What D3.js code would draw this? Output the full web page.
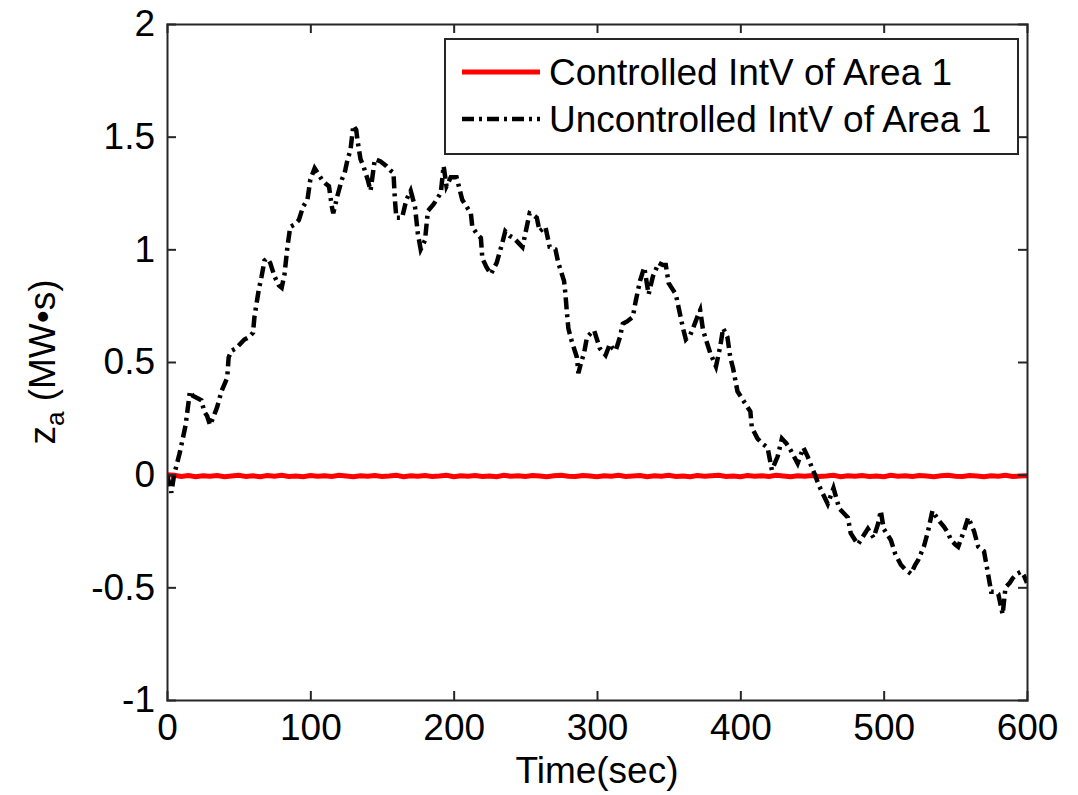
<!DOCTYPE html>
<html>
<head>
<meta charset="utf-8">
<script src="https://cdn.jsdelivr.net/npm/d3@7"></script>
<style>
  html, body { margin: 0; padding: 0; background: #fff; }
  svg { display: block; font-family: "Liberation Sans", Arial, sans-serif; }
</style>
</head>
<body>
<svg id="chart" width="1078" height="795"></svg>
<script>
// ---- data ----
const xTicks = [0, 100, 200, 300, 400, 500, 600];
const yTicks = [-1, -0.5, 0, 0.5, 1, 1.5, 2];
const yTickLabels = ["-1", "-0.5", "0", "0.5", "1", "1.5", "2"];
const seriesNames = ["Controlled IntV of Area 1", "Uncontrolled IntV of Area 1"];

const uncontrolledTime = [0,2,3,5,7,9,11,13,14,16,18,21,24,26,28,30,32,35,38,40,42,43,45,48,51,54,57,60,61,62,64,66,68,70,72,75,78,80,82,84,86,89,92,95,98,100,103,106,108,111,113,115,116,119,122,124,126,128,130,132,133,135,137,140,142,145,149,153,156,158,159,160,164,167,170,173,175,177,180,182,186,189,191,193,195,198,202,204,206,209,212,213,216,219,220,223,226,230,234,236,239,242,245,248,251,253,256,258,260,264,267,271,273,275,277,278,279,280,282,284,286,287,289,291,293,296,298,300,302,306,309,311,313,316,318,321,325,327,330,333,336,339,343,346,348,350,353,355,357,360,362,365,367,370,372,374,377,379,383,386,388,391,393,395,398,401,404,407,408,412,415,419,422,426,429,432,435,440,444,447,450,452,455,458,461,465,469,472,475,477,480,482,486,489,493,496,498,500,503,505,508,512,515,519,522,524,528,531,534,536,538,542,545,547,550,552,556,559,563,566,570,572,575,578,580,583,585,588,590,593,596,598,600];
const uncontrolledValue = [0.0,-0.05,-0.08,0.0,0.05,0.10,0.16,0.22,0.27,0.37,0.35,0.34,0.33,0.28,0.26,0.22,0.25,0.30,0.37,0.40,0.43,0.52,0.55,0.56,0.58,0.60,0.61,0.63,0.70,0.74,0.82,0.88,0.95,0.96,0.94,0.88,0.84,0.83,0.89,1.01,1.10,1.11,1.13,1.19,1.22,1.31,1.36,1.33,1.31,1.29,1.28,1.19,1.16,1.24,1.31,1.34,1.40,1.44,1.55,1.53,1.48,1.40,1.37,1.31,1.26,1.40,1.39,1.37,1.35,1.34,1.22,1.14,1.14,1.22,1.26,1.19,1.07,1.00,1.04,1.17,1.20,1.23,1.25,1.37,1.28,1.32,1.32,1.27,1.22,1.19,1.16,1.10,1.07,1.05,0.96,0.92,0.89,0.94,1.03,1.08,1.06,1.05,1.03,1.01,1.10,1.16,1.15,1.14,1.08,1.10,1.01,1.00,0.94,0.90,0.86,0.80,0.72,0.65,0.60,0.56,0.52,0.45,0.50,0.54,0.61,0.63,0.64,0.60,0.56,0.53,0.58,0.56,0.55,0.61,0.67,0.68,0.70,0.77,0.86,0.92,0.80,0.88,0.94,0.93,0.93,0.85,0.82,0.80,0.74,0.65,0.60,0.62,0.65,0.70,0.73,0.64,0.58,0.54,0.48,0.57,0.65,0.61,0.52,0.47,0.37,0.34,0.31,0.28,0.21,0.16,0.14,0.12,0.02,0.08,0.16,0.14,0.11,0.05,0.12,0.08,0.03,0.00,-0.05,-0.09,-0.13,-0.06,-0.15,-0.17,-0.19,-0.26,-0.29,-0.31,-0.27,-0.24,-0.28,-0.22,-0.16,-0.24,-0.27,-0.29,-0.35,-0.40,-0.42,-0.44,-0.40,-0.38,-0.32,-0.25,-0.16,-0.18,-0.20,-0.23,-0.26,-0.29,-0.31,-0.32,-0.25,-0.19,-0.25,-0.32,-0.34,-0.41,-0.52,-0.52,-0.53,-0.62,-0.50,-0.48,-0.46,-0.44,-0.43,-0.45,-0.48];

const controlledTime = [0,5,10,15,20,25,30,35,40,45,50,55,60,65,70,75,80,85,90,95,100,105,110,115,120,125,130,135,140,145,150,155,160,165,170,175,180,185,190,195,200,205,210,215,220,225,230,235,240,245,250,255,260,265,270,275,280,285,290,295,300,305,310,315,320,325,330,335,340,345,350,355,360,365,370,375,380,385,390,395,400,405,410,415,420,425,430,435,440,445,450,455,460,465,470,475,480,485,490,495,500,505,510,515,520,525,530,535,540,545,550,555,560,565,570,575,580,585,590,595,600];
const controlledValue = [0.0,-0.003,-0.008,-0.004,-0.009,-0.005,-0.007,-0.004,-0.009,-0.006,-0.003,-0.008,-0.005,-0.009,-0.004,-0.007,-0.003,-0.008,-0.006,-0.009,-0.004,-0.007,-0.005,-0.008,-0.003,-0.006,-0.009,-0.005,-0.007,-0.004,-0.008,-0.006,-0.003,-0.009,-0.005,-0.007,-0.004,-0.008,-0.006,-0.003,-0.009,-0.005,-0.007,-0.004,-0.008,-0.006,-0.009,-0.003,-0.007,-0.005,-0.008,-0.004,-0.006,-0.009,-0.005,-0.003,-0.007,-0.008,-0.004,-0.006,-0.009,-0.005,-0.007,-0.003,-0.008,-0.006,-0.004,-0.009,-0.005,-0.007,-0.003,-0.008,-0.006,-0.009,-0.004,-0.007,-0.005,-0.003,-0.008,-0.006,-0.009,-0.004,-0.007,-0.005,-0.008,-0.003,-0.006,-0.009,-0.005,-0.007,-0.004,-0.008,-0.006,-0.003,-0.009,-0.005,-0.007,-0.004,-0.008,-0.006,-0.009,-0.003,-0.007,-0.005,-0.008,-0.004,-0.006,-0.009,-0.005,-0.003,-0.007,-0.008,-0.004,-0.006,-0.009,-0.005,-0.007,-0.003,-0.008,-0.006,-0.005];

// ---- layout ----
const svg = d3.select("#chart");
const L = 167, R = 1027, T = 24, B = 700;
const x = d3.scaleLinear().domain([0, 600]).range([L, R]);
const y = d3.scaleLinear().domain([-1, 2]).range([B, T]);
const FONT = 37;
const axisColor = "#262626";

svg.append("defs").append("clipPath").attr("id", "plotclip")
  .append("rect").attr("x", L).attr("y", T).attr("width", R - L).attr("height", B - T);

// lines
const line = d3.line().x(d => x(d[0])).y(d => y(d[1]));
const ctrl = controlledTime.map((t, i) => [t, controlledValue[i]]);
const unc = uncontrolledTime.map((t, i) => [t, uncontrolledValue[i]]);

const plot = svg.append("g").attr("clip-path", "url(#plotclip)");
plot.append("path").datum(ctrl).attr("d", line)
  .attr("fill", "none").attr("stroke", "#ff0000").attr("stroke-width", 5);
plot.append("path").datum(unc).attr("d", line)
  .attr("fill", "none").attr("stroke", "#000").attr("stroke-width", 4.5)
  .attr("stroke-dasharray", "12,5,3,5");

// axes (box with inward ticks on all sides)
const tickLen = 9;
const axB = svg.append("g").attr("transform", `translate(0,${B})`)
  .call(d3.axisBottom(x).tickValues(xTicks).tickSize(-tickLen).tickPadding(14));
const axT = svg.append("g").attr("transform", `translate(0,${T})`)
  .call(d3.axisTop(x).tickValues(xTicks).tickSize(-tickLen).tickFormat(""));
const axL = svg.append("g").attr("transform", `translate(${L},0)`)
  .call(d3.axisLeft(y).tickValues(yTicks).tickSize(-tickLen).tickPadding(12)
    .tickFormat((d, i) => yTickLabels[i]));
const axR = svg.append("g").attr("transform", `translate(${R},0)`)
  .call(d3.axisRight(y).tickValues(yTicks).tickSize(-tickLen).tickFormat(""));

[axB, axT, axL, axR].forEach(g => {
  g.select(".domain").attr("stroke", axisColor).attr("stroke-width", 2);
  g.selectAll(".tick line").attr("stroke", axisColor).attr("stroke-width", 2);
  g.selectAll(".tick text").attr("fill", "#000").attr("font-size", FONT)
    .attr("font-family", '"Liberation Sans", Arial, sans-serif');
});
// hide ticks at the box corners
axB.selectAll(".tick").filter(d => d === 0 || d === 600).select("line").remove();
axT.selectAll(".tick").filter(d => d === 0 || d === 600).select("line").remove();
axL.selectAll(".tick").filter(d => d === -1 || d === 2).select("line").remove();
axR.selectAll(".tick").filter(d => d === -1 || d === 2).select("line").remove();

// axis labels
svg.append("text").attr("x", (L + R) / 2).attr("y", 783)
  .attr("text-anchor", "middle").attr("font-size", FONT).attr("fill", "#000")
  .text("Time(sec)");

const yl = svg.append("text")
  .attr("transform", `translate(55,${(T + B) / 2}) rotate(-90)`)
  .attr("text-anchor", "middle").attr("font-size", FONT).attr("fill", "#000");
yl.append("tspan").text("z");
yl.append("tspan").attr("font-size", 26).attr("dy", 9).text("a");
yl.append("tspan").attr("dy", -9).text(" (MW\u2022s)");

// legend
const lg = svg.append("g");
const lgX = 445, lgY = 39, lgW = 573, lgH = 115;
lg.append("rect").attr("x", lgX).attr("y", lgY).attr("width", lgW).attr("height", lgH)
  .attr("fill", "#fff").attr("stroke", axisColor).attr("stroke-width", 2);
const rows = [
  { name: seriesNames[0], color: "#ff0000", dash: null, w: 5, cy: 72 },
  { name: seriesNames[1], color: "#000", dash: "12,5,3,5", w: 4.5, cy: 119 }
];
rows.forEach(r => {
  lg.append("line").attr("x1", 462).attr("x2", 540).attr("y1", r.cy).attr("y2", r.cy)
    .attr("stroke", r.color).attr("stroke-width", r.w)
    .attr("stroke-dasharray", r.dash);
  lg.append("text").attr("x", 549).attr("y", r.cy).attr("dy", "0.36em")
    .attr("font-size", FONT).attr("fill", "#000").text(r.name);
});
</script>
</body>
</html>
